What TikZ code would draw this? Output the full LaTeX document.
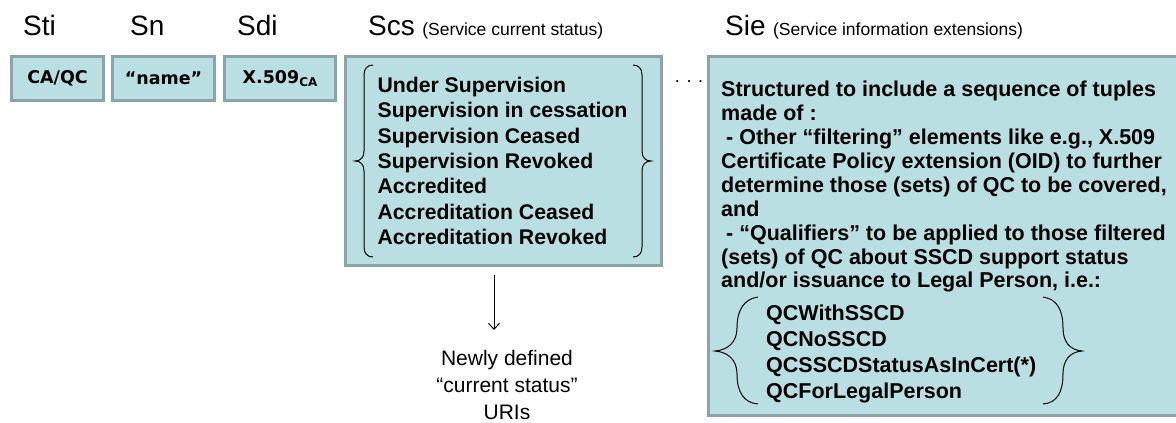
\documentclass[tikz,border=0pt]{standalone}
\usepackage{fontspec}
\setmainfont{Liberation Sans}
\newfontfamily\verdfont{DejaVu Sans}
\usetikzlibrary{positioning,calc,arrows.meta}
\definecolor{cellclr}{RGB}{185,223,226}
\definecolor{edgeclr}{RGB}{138,165,167}
\tikzset{
  cell/.style  = {draw=edgeclr, fill=cellclr, line width=3pt, inner sep=0pt},
  head/.style  = {font=\fontsize{28}{30}\selectfont, anchor=base west, inner sep=0pt},
  note/.style  = {font=\fontsize{17.5}{20}\selectfont, anchor=base west, inner sep=0pt},
  tag/.style   = {font=\verdfont\bfseries\fontsize{17.5}{20}\selectfont},
  blist/.style = {font=\bfseries\fontsize{21.2}{25.4}\selectfont, align=left, inner sep=0pt},
  brc/.style   = {line width=1pt},
  arr/.style   = {-{Straight Barb[length=6pt,width=11pt]}, line width=1pt},
}

\begin{document}
\begin{tikzpicture}[x=1pt,y=-1pt]
    \useasboundingbox (0,0) rectangle (1176,423);
    \clip (0,0) rectangle (1176,423);

    % -- Column headings -------------------------------------------
    \node[head] (hsti) at (23,35)  {Sti};
    \node[head] (hsn)  at (130,35) {Sn};
    \node[head] (hsdi) at (237,35) {Sdi};
    \node[head] (hscs) at (368,35) {Scs};
    \node[note] (nscs) at ([xshift=7pt]hscs.base east) {(Service current status)};
    \node[head] (hsie) at (725,35) {Sie};
    \node[note] (nsie) at ([xshift=7pt]hsie.base east) {(Service information extensions)};

    % -- Short fields ----------------------------------------------
    \node[cell, tag, minimum width=92pt, minimum height=44pt]  (sti) at (57.5,78.5) {CA/QC};
    \node[cell, tag, minimum width=102pt, minimum height=44pt] (sn)  at (163.5,78.5) {“name”};
    \node[cell, tag, minimum width=111pt, minimum height=44pt] (sdi) at (280,78.5)
        {X.509\raisebox{-3pt}{\fontsize{12}{12}\selectfont CA}};

    % -- Current status --------------------------------------------
    \node[cell, minimum width=316pt, minimum height=209pt] (scs) at (503.5,161) {};
    \node[blist] (scslist) at (502.5,161)
        {Under Supervision\\
         Supervision in cessation\\
         Supervision Ceased\\
         Supervision Revoked\\
         Accredited\\
         Accreditation Ceased\\
         Accreditation Revoked};
    \draw[brc] (373,65) .. controls (367,65) and (364,69) .. (364,75) -- (364,151)
        .. controls (364,157) and (361,161) .. (355,161)
        .. controls (361,161) and (364,165) .. (364,171) -- (364,247)
        .. controls (364,253) and (367,257) .. (373,257);
    \draw[brc] (633,65) .. controls (639,65) and (642,69) .. (642,75) -- (642,151)
        .. controls (642,157) and (645,161) .. (651,161)
        .. controls (645,161) and (642,165) .. (642,171) -- (642,247)
        .. controls (642,253) and (639,257) .. (633,257);

    \node[font=\fontsize{21}{27}\selectfont, align=center, inner sep=0pt, anchor=north]
        (uris) at (507,350) {Newly defined\\“current status”\\URIs};
    \draw[arr] ([shift={(-9.5,8)}]scs.south) -- ([shift={(-13,-20)}]uris.north);

    \node[font=\fontsize{18}{18}\selectfont, anchor=base] (dots) at (689,82) {. . .};

    % -- Information extensions ------------------------------------
    \node[cell, minimum width=470pt, minimum height=359pt] (sie) at (943.5,236) {};
    \node[blist, font=\bfseries\fontsize{21.5}{23.9}\selectfont, anchor=north west]
        (sietxt) at (721,81)
        {Structured to include a sequence of tuples\\
         made of :\\
         \hspace{5pt}- Other “filtering” elements like e.g., X.509\\
         Certificate Policy extension (OID) to further\\
         determine those (sets) of QC to be covered,\\
         and\\
         \hspace{5pt}- “Qualifiers” to be applied to those filtered\\
         (sets) of QC about SSCD support status\\
         and/or issuance to Legal Person, i.e.:};
    \node[blist, font=\bfseries\fontsize{21.5}{26}\selectfont, anchor=north west]
        (qclist) at (766,305)
        {QCWithSSCD\\
         QCNoSSCD\\
         QCSSCDStatusAsInCert(*)\\
         QCForLegalPerson};
    \draw[brc] (758,297) .. controls (744,299) and (737,310) .. (737,328)
        .. controls (737,342) and (728,350) .. (715,351)
        .. controls (728,352) and (737,360) .. (737,374)
        .. controls (737,392) and (744,403) .. (758,404);
    \draw[brc] (1043,297) .. controls (1057,299) and (1063,310) .. (1063,328)
        .. controls (1063,342) and (1070,350) .. (1082,351)
        .. controls (1070,352) and (1063,360) .. (1063,374)
        .. controls (1063,392) and (1057,403) .. (1043,404);
\end{tikzpicture}
\end{document}
